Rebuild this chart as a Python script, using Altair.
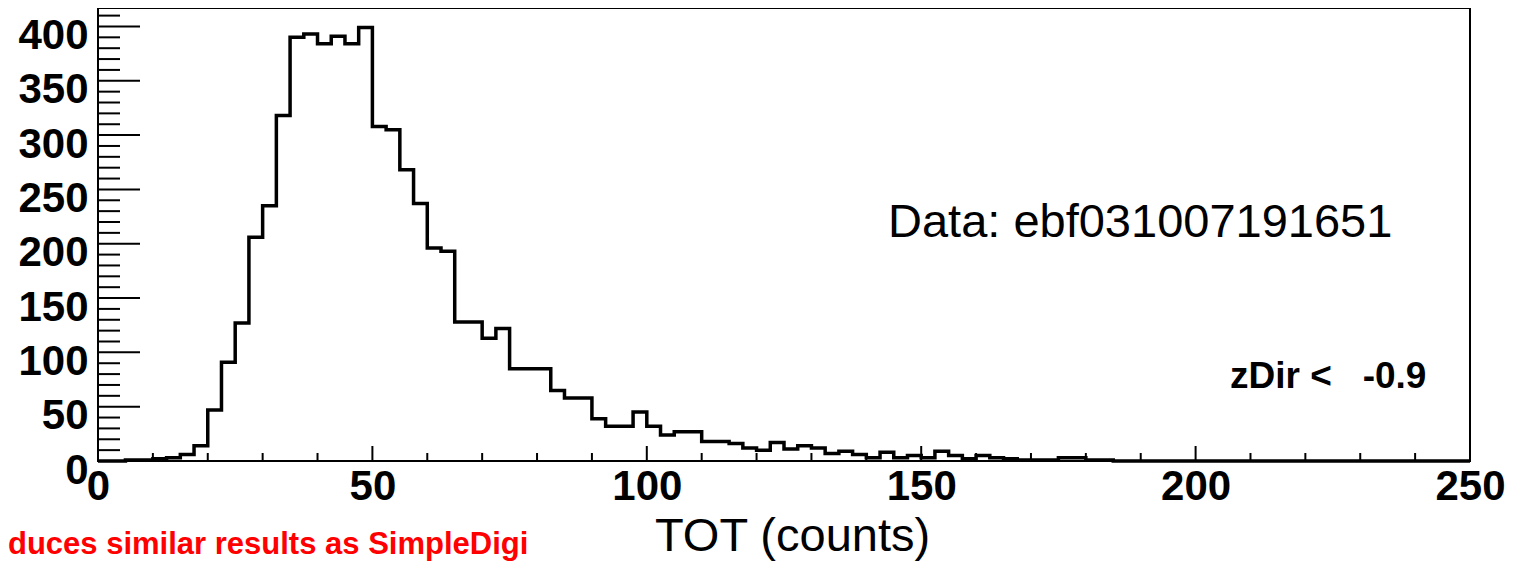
import altair as alt
import pandas as pd

# ---- data (100 bins of width 2.5 over 0..250) ----
bin_width = 2.5
counts = [
    0, 0, 1, 1, 2, 3, 6, 14, 47, 91,
    127, 206, 235, 318, 390, 393, 384, 391, 384, 399,
    308, 305, 268, 237, 196, 193, 128, 128, 113, 122,
    85, 85, 85, 65, 58, 58, 39, 32, 32, 45,
    32, 24, 27, 27, 18, 18, 16, 12, 10, 17,
    11, 14, 12, 7, 9, 6, 3, 8, 3, 5,
    3, 9, 5, 2, 5, 3, 2, 1, 1, 1,
    3, 3, 1, 1, 0, 0, 0, 0, 0, 0,
    0, 0, 0, 0, 0, 0, 0, 0, 0, 0,
    0, 0, 0, 0, 0, 0, 0, 0, 0, 0,
]
x_major = [0, 50, 100, 150, 200, 250]
x_minor = [v for v in range(10, 250, 10) if v % 50 != 0]
y_major = [0, 50, 100, 150, 200, 250, 300, 350, 400]
y_minor = [v for v in range(10, 420, 10) if v % 50 != 0]

x_title = "TOT (counts)"
data_label = "Data: ebf031007191651"
cut_label = "zDir <\u00a0\u00a0\u00a0-0.9"
note_label = "duces similar results as SimpleDigi"

# ---- tables ----
edges = [i * bin_width for i in range(len(counts) + 1)]
hist = pd.DataFrame({"tot": edges, "n": counts + [counts[-1]]})

W, H = 1372, 453
xs = alt.Scale(domain=[0, 250], nice=False, zero=False)
ys = alt.Scale(domain=[0, 417], nice=False)

FONT = "Liberation Sans"

x_axis = alt.Axis(values=x_major, ticks=False, domain=False, grid=False, title=None,
                  labelFont=FONT, labelFontWeight="bold", labelFontSize=42,
                  labelColor="black", labelPadding=5, labelFlush=False, labelOverlap=False)
y_axis = alt.Axis(values=y_major, ticks=False, domain=False, grid=False, title=None,
                  labelFont=FONT, labelFontWeight="bold", labelFontSize=42,
                  labelColor="black", labelPadding=10, labelOffset=9, labelOverlap=False)

line = alt.Chart(hist).mark_line(interpolate="step-after", color="black", strokeWidth=3.5).encode(
    x=alt.X("tot:Q", scale=xs, axis=x_axis),
    y=alt.Y("n:Q", scale=ys, axis=y_axis),
)

ymaj = alt.Chart(pd.DataFrame({"v": y_major})).mark_rule(color="black", strokeWidth=2).encode(
    y=alt.Y("v:Q", scale=ys), x=alt.value(0), x2=alt.value(42))
ymin = alt.Chart(pd.DataFrame({"v": y_minor})).mark_rule(color="black", strokeWidth=2).encode(
    y=alt.Y("v:Q", scale=ys), x=alt.value(0), x2=alt.value(22))
xmaj = alt.Chart(pd.DataFrame({"v": x_major})).mark_rule(color="black", strokeWidth=2).encode(
    x=alt.X("v:Q", scale=xs), y=alt.value(H), y2=alt.value(H - 15))
xmin = alt.Chart(pd.DataFrame({"v": x_minor})).mark_rule(color="black", strokeWidth=2).encode(
    x=alt.X("v:Q", scale=xs), y=alt.value(H), y2=alt.value(H - 8))


def label(text, px, py, size, weight="normal", color="black"):
    return alt.Chart(pd.DataFrame({"t": [text]})).mark_text(
        font=FONT, fontSize=size, fontWeight=weight, color=color,
        align="left", baseline="alphabetic",
    ).encode(text="t:N", x=alt.value(px), y=alt.value(py))


texts = (
    label(data_label, 790, 229, 47)
    + label(cut_label, 1132, 380, 37, "bold")
    + label(x_title, 557, 543, 47)
    + label(note_label, -90, 546, 31, "bold", "#ff0000")
)

chart = alt.layer(line, ymaj, ymin, xmaj, xmin, texts).properties(
    width=W, height=H,
    autosize=alt.AutoSizeParams(type="none"),
    padding={"left": 90, "top": 0, "right": 41, "bottom": 101},
    background="white",
).configure_view(stroke="black", strokeWidth=2)

chart.save("out.html", embed_options={"renderer": "svg", "actions": False})
